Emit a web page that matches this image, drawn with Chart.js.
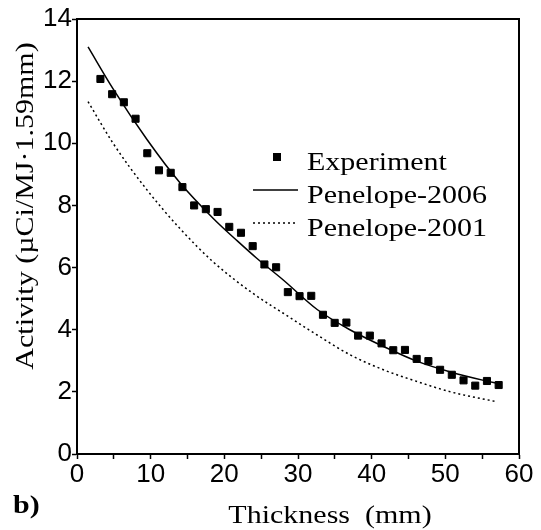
<!DOCTYPE html>
<html>
<head>
<meta charset="utf-8">
<script src="https://cdn.jsdelivr.net/npm/chart.js"></script>
<style>
  body { margin: 0; background: #fff; }
  canvas { display: block; }
</style>
</head>
<body>
<canvas id="activityChart" width="541" height="530"></canvas>
<script>
// measured points, one per 1.59 mm foil
const thickness = [3.18, 4.77, 6.36, 7.95, 9.54, 11.13, 12.72, 14.31, 15.90, 17.49, 19.08, 20.67,
  22.26, 23.85, 25.44, 27.03, 28.62, 30.21, 31.80, 33.39, 34.98, 36.57, 38.16, 39.75, 41.34,
  42.93, 44.52, 46.11, 47.70, 49.29, 50.88, 52.47, 54.06, 55.65, 57.24];
const activity = [12.07, 11.58, 11.32, 10.79, 9.68, 9.13, 9.05, 8.59, 8.00, 7.88, 7.79, 7.31,
  7.12, 6.69, 6.10, 6.01, 5.21, 5.08, 5.09, 4.48, 4.22, 4.23, 3.81, 3.81, 3.56,
  3.34, 3.35, 3.06, 2.99, 2.71, 2.55, 2.37, 2.20, 2.35, 2.22];

// simulation curves
const pen2006X = [1.5, 4.9, 9.5, 14.0, 18.5, 21.8, 24.4, 28.0, 32.6, 37.1, 41.7, 46.2, 50.7, 55.2, 57.2];
const pen2006Y = [13.1, 11.75, 10.12, 8.72, 7.58, 6.85, 6.3, 5.6, 4.65, 3.99, 3.45, 2.98, 2.64, 2.37, 2.27];
const pen2001X = [1.5, 4.9, 9.5, 14.0, 18.5, 24.0, 28.0, 32.6, 37.1, 41.7, 46.2, 50.7, 57.0];
const pen2001Y = [11.34, 10.0, 8.5, 7.25, 6.18, 5.15, 4.53, 3.83, 3.19, 2.70, 2.33, 2.0, 1.68];

const seriesNames = ['Experiment', 'Penelope-2006', 'Penelope-2001'];
const xTitle = 'Thickness  (mm)';
const yTitle = 'Activity (\u00b5Ci/MJ\u00b71.59mm)';
const panelLabel = 'b)';

const toPoints = (xs, ys) => xs.map((x, i) => ({ x: x, y: ys[i] }));

const serif = '"Liberation Serif", "Times New Roman", serif';

function stretchedText(ctx, text, x, y, align, angle) {
  ctx.save();
  ctx.translate(x, y);
  if (angle) ctx.rotate(angle);
  ctx.scale(1.2, 1);
  ctx.textAlign = align;
  ctx.fillText(text, 0, 0);
  ctx.restore();
}

// frame, axis titles and the legend inside the plot
const decorations = {
  id: 'decorations',
  afterDraw(chart) {
    const ctx = chart.ctx;
    const a = chart.chartArea;
    ctx.save();
    ctx.strokeStyle = '#000';
    ctx.lineWidth = 2;
    ctx.beginPath();
    ctx.moveTo(a.left, a.top);
    ctx.lineTo(a.right, a.top);
    ctx.lineTo(a.right, a.bottom);
    ctx.stroke();

    ctx.fillStyle = '#000';
    ctx.textBaseline = 'alphabetic';
    ctx.font = '25px ' + serif;
    stretchedText(ctx, yTitle, 33, 206, 'center', -Math.PI / 2);
    stretchedText(ctx, xTitle, 330, 523, 'center');
    ctx.font = 'bold 25px ' + serif;
    stretchedText(ctx, panelLabel, 13, 513, 'left');

    // legend
    ctx.font = '25px ' + serif;
    ctx.fillRect(273, 153, 8, 8);
    stretchedText(ctx, seriesNames[0], 307, 170, 'left');
    ctx.lineWidth = 1.5;
    ctx.beginPath();
    ctx.moveTo(253, 190);
    ctx.lineTo(298, 190);
    ctx.stroke();
    stretchedText(ctx, seriesNames[1], 307, 203, 'left');
    ctx.setLineDash([2, 3]);
    ctx.beginPath();
    ctx.moveTo(253, 223);
    ctx.lineTo(298, 223);
    ctx.stroke();
    ctx.setLineDash([]);
    stretchedText(ctx, seriesNames[2], 307, 236, 'left');
    ctx.restore();
  }
};

const tickFont = { family: '"Liberation Sans", Arial, sans-serif', size: 26 };

new Chart(document.getElementById('activityChart').getContext('2d'), {
  type: 'scatter',
  data: {
    datasets: [{
      label: seriesNames[0],
      data: toPoints(thickness, activity),
      pointStyle: 'rect',
      pointRadius: 5,
      pointBorderWidth: 1,
      backgroundColor: '#000',
      borderColor: '#000',
      showLine: false
    }, {
      label: seriesNames[1],
      data: toPoints(pen2006X, pen2006Y),
      showLine: true,
      pointRadius: 0,
      borderColor: '#000',
      borderWidth: 1.5,
      cubicInterpolationMode: 'monotone'
    }, {
      label: seriesNames[2],
      data: toPoints(pen2001X, pen2001Y),
      showLine: true,
      pointRadius: 0,
      borderColor: '#000',
      borderWidth: 1.5,
      borderDash: [2, 3],
      cubicInterpolationMode: 'monotone'
    }]
  },
  options: {
    responsive: false,
    animation: false,
    devicePixelRatio: 1,
    layout: { padding: { left: 20, top: 19, right: 22, bottom: 30 } },
    plugins: { legend: { display: false }, tooltip: { enabled: false } },
    scales: {
      x: {
        min: 0, max: 60,
        afterFit: (s) => { s.height = 46; },
        border: { color: '#000', width: 2 },
        grid: { drawOnChartArea: false, tickColor: '#000', tickLength: 5, tickWidth: 1.5 },
        ticks: {
          stepSize: 5, color: '#000', font: tickFont, padding: 0, maxRotation: 0,
          callback: (v) => (v % 10 === 0 ? v : '')
        }
      },
      y: {
        min: 0, max: 14,
        afterFit: (s) => { s.width = 57; },
        border: { color: '#000', width: 2 },
        grid: { drawOnChartArea: false, tickColor: '#000', tickLength: 5, tickWidth: 1.5 },
        ticks: {
          stepSize: 1, color: '#000', font: tickFont, padding: 0,
          callback: (v) => (v % 2 === 0 ? v : '')
        }
      }
    }
  },
  plugins: [decorations]
});
</script>
</body>
</html>
